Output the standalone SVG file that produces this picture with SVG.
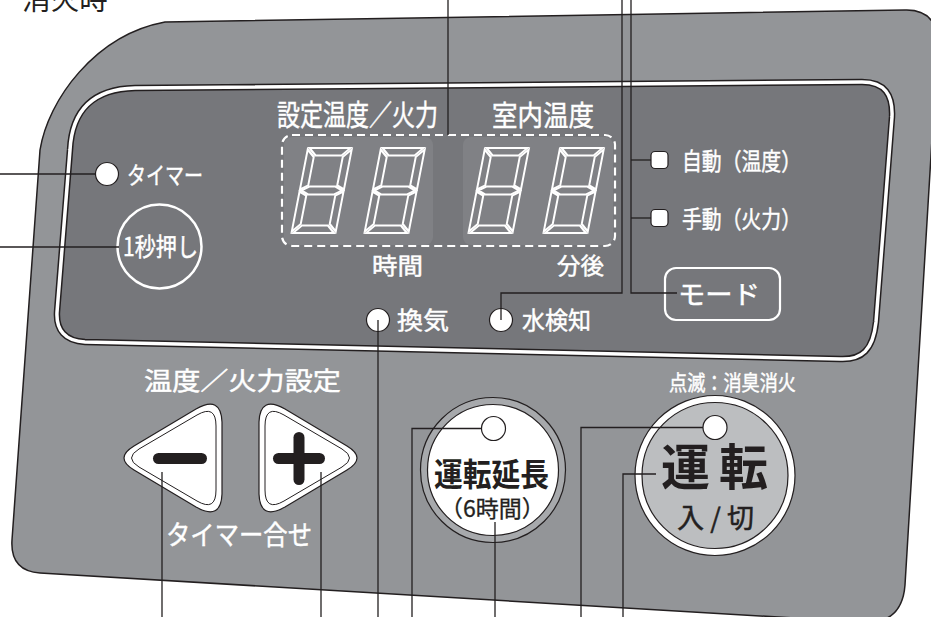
<svg xmlns="http://www.w3.org/2000/svg" width="931" height="617" viewBox="0 0 931 617">
<style>
.t{font-family:"Noto Sans CJK JP","Noto Sans",sans-serif}
.w{fill:#ffffff;stroke:#ffffff;stroke-width:0.45}
.k{fill:#231f20}
.seg{fill:none;stroke:#ffffff;stroke-width:2;stroke-linejoin:miter}
.led{fill:#ffffff;stroke:#231f20;stroke-width:1.2}
.ln{fill:none;stroke:#231f20;stroke-width:1.3}
.wl{fill:none;stroke:#ffffff}
</style>
<defs>
<g id="digit">
<polygon class="seg" points="1.5,0 42.5,0 35,7.5 9,7.5"/>
<polygon class="seg" points="0,1.5 7.5,9 7.5,37.5 0,41.5"/>
<polygon class="seg" points="44,1.5 36.5,9 36.5,37.5 44,41.5"/>
<polygon class="seg" points="1.5,42.5 9,38.5 35,38.5 42.5,42.5 35,46.5 9,46.5"/>
<polygon class="seg" points="0,43.5 7.5,47.5 7.5,76 0,83.5"/>
<polygon class="seg" points="44,43.5 36.5,47.5 36.5,76 44,83.5"/>
<polygon class="seg" points="1.5,85 42.5,85 35,77.5 9,77.5"/>
</g>
<g id="arrowbtn">
<path d="M134,446 L196,409 Q221,395 222,422 L222,494 Q221,521 196,507 L134,470 Q114,458 134,446 Z" fill="#ffffff" stroke="#231f20" stroke-width="1.2"/>
<path d="M139,449 L197,415 Q216,404 216,426 L216,490 Q216,512 197,501 L139,467 Q124,458 139,449 Z" fill="#ffffff" stroke="#231f20" stroke-width="1"/>
</g>
</defs>

<text class="t k" x="22" y="10" font-size="28" textLength="86" lengthAdjust="spacingAndGlyphs">消火時</text>

<g id="panel">
<path d="M165,22 L905,10 Q935,9 938,40 L905,585 Q902,625 862,622 L40,573 Q10,571 12,540 L40,150 C48,100 95,35 165,22 Z" fill="#939598" stroke="#231f20" stroke-width="1.5"/>
<path d="M70,150 C72,108 95,89 135,88 L862,82 C885,82 893,95 892,117 L876,322 C873,350 862,360 840,359 L85,342 C65,341 56,330 57,312 Z" fill="#76777b" stroke="#231f20" stroke-width="6.5"/>
<path d="M70,150 C72,108 95,89 135,88 L862,82 C885,82 893,95 892,117 L876,322 C873,350 862,360 840,359 L85,342 C65,341 56,330 57,312 Z" class="wl" stroke-width="3.5"/>
</g>

<g id="display">
<rect x="284" y="137" width="149" height="108" rx="8" fill="#808185"/>
<rect x="463" y="137" width="150" height="108" rx="8" fill="#808185"/>
<rect x="282" y="135" width="333" height="111" rx="10" class="wl" stroke-width="2.2" stroke-dasharray="8 5"/>
<use href="#digit" transform="translate(308,148) skewX(-11)"/>
<use href="#digit" transform="translate(381,148) skewX(-11)"/>
<use href="#digit" transform="translate(485,148) skewX(-11)"/>
<use href="#digit" transform="translate(560,148) skewX(-11)"/>
<text class="t w" x="277" y="126" font-size="29" textLength="161" lengthAdjust="spacingAndGlyphs">設定温度／火力</text>
<text class="t w" x="492" y="126" font-size="28" textLength="102" lengthAdjust="spacingAndGlyphs">室内温度</text>
<text class="t w" x="372" y="273.5" font-size="23" textLength="51" lengthAdjust="spacingAndGlyphs">時間</text>
<text class="t w" x="557" y="273.5" font-size="23" textLength="47" lengthAdjust="spacingAndGlyphs">分後</text>
</g>

<g id="timer-btn">
<circle cx="159.5" cy="246.5" r="42" class="wl" stroke-width="2.5"/>
<text class="t w" x="123" y="256" font-size="25" textLength="75" lengthAdjust="spacingAndGlyphs">1秒押し</text>
</g>

<g id="mode-btn">
<rect x="665" y="268" width="115" height="52" rx="11" class="wl" stroke-width="2.2"/>
<text class="t w" x="678" y="304" font-size="26" textLength="82" lengthAdjust="spacingAndGlyphs">モード</text>
</g>

<g id="setting-label">
<text class="t w" x="144" y="390" font-size="25" textLength="197" lengthAdjust="spacingAndGlyphs">温度／火力設定</text>
<text class="t w" x="166" y="545" font-size="27" textLength="146" lengthAdjust="spacingAndGlyphs">タイマー合せ</text>
</g>

<g id="minus-btn">
<use href="#arrowbtn"/>
<line x1="158.5" y1="458.5" x2="201.5" y2="458.5" stroke="#231f20" stroke-width="11" stroke-linecap="round"/>
</g>

<g id="plus-btn">
<use href="#arrowbtn" transform="translate(481,0) scale(-1,1)"/>
<line x1="278.5" y1="458.5" x2="319.5" y2="458.5" stroke="#231f20" stroke-width="11" stroke-linecap="round"/>
<line x1="299" y1="437.5" x2="299" y2="479.5" stroke="#231f20" stroke-width="11" stroke-linecap="round"/>
</g>

<g id="extend-btn">
<circle cx="493" cy="470" r="72.5" fill="#a7a9ac" stroke="#231f20" stroke-width="1.2"/>
<circle cx="493" cy="470" r="65.5" fill="#ffffff" stroke="#231f20" stroke-width="1.2"/>
<text class="t k" x="434" y="485.5" font-size="32" font-weight="bold" textLength="115" lengthAdjust="spacingAndGlyphs">運転延長</text>
<text class="t k" x="492.5" y="517" font-size="23" text-anchor="middle" stroke="#231f20" stroke-width="0.3">（6時間）</text>
</g>

<g id="run-btn">
<circle cx="715" cy="475.5" r="80" fill="#ffffff" stroke="#231f20" stroke-width="1.2"/>
<circle cx="715" cy="475.5" r="73" fill="#bcbec0" stroke="#231f20" stroke-width="1.2"/>
<text class="t k" x="661" y="485" font-size="49" font-weight="bold" letter-spacing="9">運転</text>
<text class="t k" x="677" y="528" font-size="27" textLength="77" lengthAdjust="spacing" stroke="#231f20" stroke-width="0.5">入/切</text>
</g>
<text class="t w" x="669" y="390" font-size="21" textLength="127" lengthAdjust="spacingAndGlyphs">点滅：消臭消火</text>

<g id="connectors">
<polyline class="ln" points="0,174 98,174"/>
<polyline class="ln" points="0,247 119,247"/>
<polyline class="ln" points="448,0 448,135"/>
<polyline class="ln" points="622,0 622,293 501,293 501,320"/>
<polyline class="ln" points="631,0 631,293 677,293"/>
<polyline class="ln" points="631,160 651,160"/>
<polyline class="ln" points="631,218 651,218"/>
<polyline class="ln" points="378,320 378,617"/>
<polyline class="ln" points="162,472 162,617"/>
<polyline class="ln" points="321,472 321,617"/>
<polyline class="ln" points="482,428.5 412,428.5 412,617"/>
<polyline class="ln" points="495,522 495,617"/>
<polyline class="ln" points="703,427.5 581,427.5 581,617"/>
<polyline class="ln" points="656,474 623,474 623,617"/>
</g>

<g id="led-timer">
<circle class="led" cx="107" cy="174" r="11.5"/>
<text class="t w" x="127" y="184" font-size="24" textLength="76" lengthAdjust="spacingAndGlyphs">タイマー</text>
</g>
<g id="led-auto">
<rect class="led" x="651" y="151.5" width="17" height="17" rx="4"/>
<text class="t w" x="682" y="170" font-size="24" textLength="119" lengthAdjust="spacingAndGlyphs">自動（温度）</text>
</g>
<g id="led-manual">
<rect class="led" x="651" y="209.5" width="17" height="17" rx="4"/>
<text class="t w" x="682" y="228" font-size="24" textLength="119" lengthAdjust="spacingAndGlyphs">手動（火力）</text>
</g>
<g id="led-vent">
<circle class="led" cx="378" cy="320" r="11.5"/>
<text class="t w" x="397" y="328.5" font-size="24" textLength="52" lengthAdjust="spacingAndGlyphs">換気</text>
</g>
<g id="led-water">
<circle class="led" cx="501" cy="320" r="11.5"/>
<text class="t w" x="522" y="328.5" font-size="24" textLength="69" lengthAdjust="spacingAndGlyphs">水検知</text>
</g>
<g id="led-extend">
<circle class="led" cx="493.5" cy="428.5" r="12"/>
</g>
<g id="led-run">
<circle class="led" cx="715" cy="427.5" r="12"/>
</g>
<g id="connector-tips">
<line class="ln" x1="378" y1="320" x2="378" y2="332"/>
<line class="ln" x1="501" y1="308" x2="501" y2="320"/>
</g>
</svg>
